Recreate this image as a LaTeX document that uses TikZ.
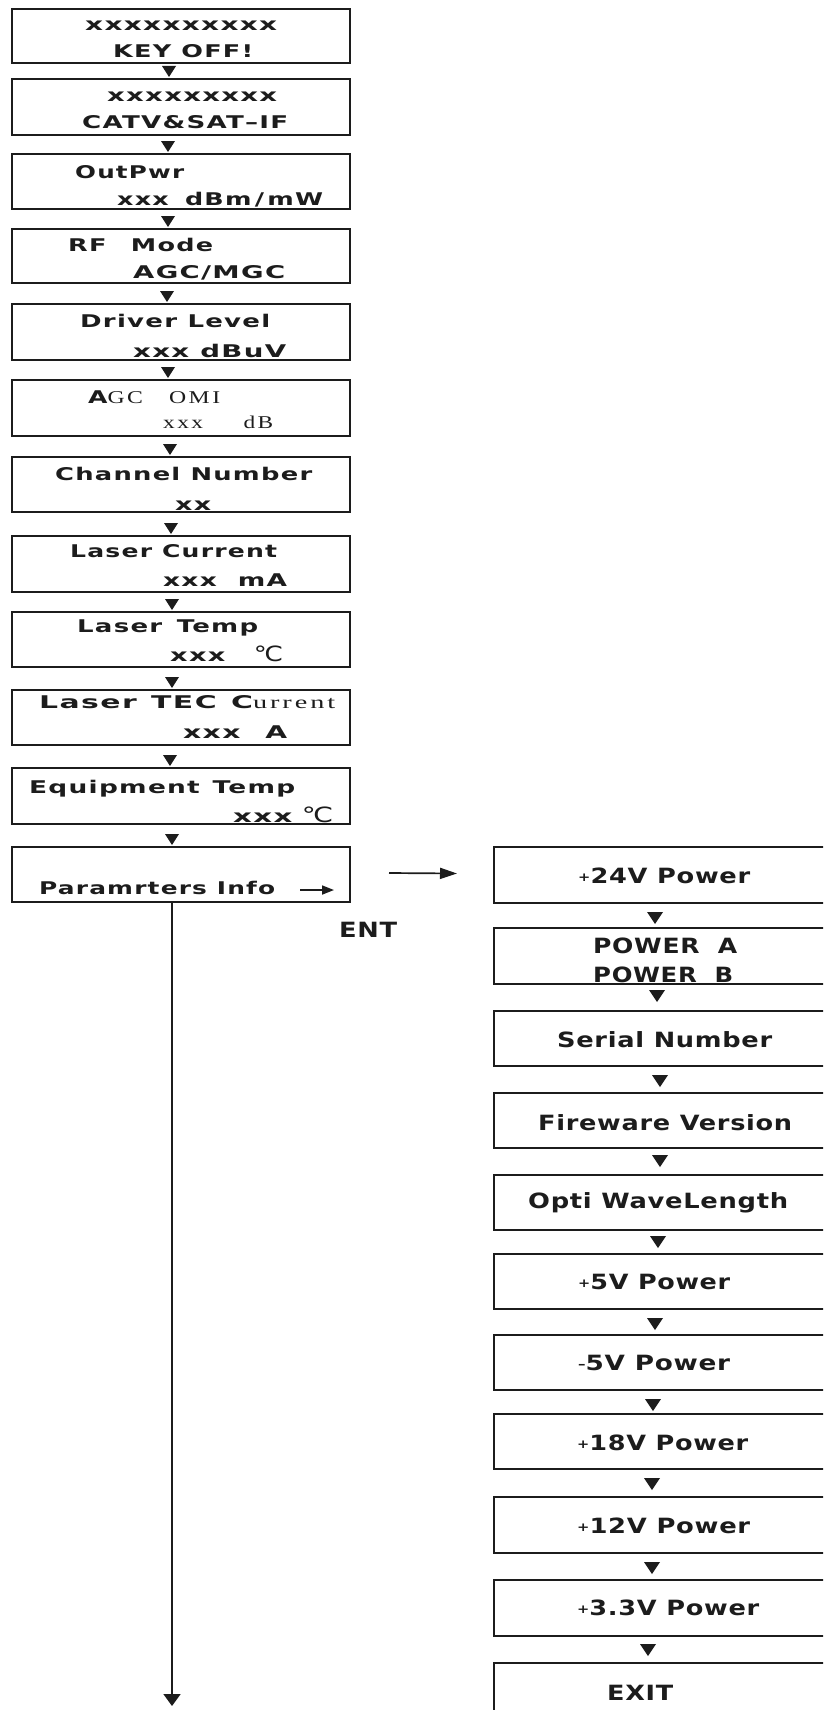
\documentclass[tikz,border=0pt]{standalone}
\usepackage{fontspec}
\usepackage{graphicx}
\setmainfont{DejaVu Sans}
\newfontfamily\Lf{DejaVu Sans}[FakeStretch=1.25,LetterSpace=6]
\newfontfamily\Rf{DejaVu Sans}[FakeStretch=1.1,LetterSpace=3]
\newfontfamily\Sf{Liberation Serif}[FakeStretch=1.15,LetterSpace=12]
\newfontfamily\Cf{DejaVu Sans}
\usetikzlibrary{arrows.meta,calc}
\definecolor{ink}{RGB}{28,28,28}
\newcommand\tw[6]{\node[#1] (#2) at (#3,#4) {\resizebox{#5pt}{\height}{#6}};}
\newcommand\plusg{{\fontsize{12}{12}\selectfont\raisebox{2pt}{+}}}
\newcommand\minusg{{\fontsize{12}{12}\selectfont\raisebox{2pt}{–}}}
\newcommand\serf[1]{{\Sf\mdseries\fontsize{18}{19}\selectfont #1}}
\newcommand\celsius{{\Cf\mdseries\fontsize{21}{22}\selectfont ℃}}
\newcommand\tri[4]{\fill[ink] (#1,#2) -- ++(-#3,-#4) -- ++(2*#3,0) -- cycle;}
\begin{document}
\begin{tikzpicture}[x=1pt,y=-1pt,
 box/.style={draw=ink, line width=1.8pt, inner sep=0pt, outer sep=0pt},
 lt/.style={anchor=base west, inner sep=0pt, text=ink, font=\Lf\bfseries\fontsize{17.5}{18}\selectfont},
 rt/.style={anchor=base west, inner sep=0pt, text=ink, font=\Rf\bfseries\fontsize{21}{22}\selectfont},
 st/.style={anchor=base west, inner sep=0pt, text=ink, font=\Sf\fontsize{18}{19}\selectfont},
 conn/.style={draw=ink, line width=1.7pt},
]
\useasboundingbox (0,0) rectangle (823,1710);
\fill[white] (0,0) rectangle (823,1710);
\clip (0,0) rectangle (823,1710);

% left column boxes
\node[box, minimum width=338pt, minimum height=54pt] (L1) at (181,36) {};
\node[box, minimum width=338pt, minimum height=56pt] (L2) at (181,107) {};
\node[box, minimum width=338pt, minimum height=55pt] (L3) at (181,181.5) {};
\node[box, minimum width=338pt, minimum height=54pt] (L4) at (181,256) {};
\node[box, minimum width=338pt, minimum height=56pt] (L5) at (181,332) {};
\node[box, minimum width=338pt, minimum height=56pt] (L6) at (181,408) {};
\node[box, minimum width=338pt, minimum height=55pt] (L7) at (181,484.5) {};
\node[box, minimum width=338pt, minimum height=56pt] (L8) at (181,564) {};
\node[box, minimum width=338pt, minimum height=55pt] (L9) at (181,639.5) {};
\node[box, minimum width=338pt, minimum height=55pt] (L10) at (181,717.5) {};
\node[box, minimum width=338pt, minimum height=56pt] (L11) at (181,796) {};
\node[box, minimum width=338pt, minimum height=55pt] (L12) at (181,874.5) {};

% right column boxes
\node[box, minimum width=406pt, minimum height=56pt] (R1) at (697,875) {};
\node[box, minimum width=406pt, minimum height=56pt] (R2) at (697,956) {};
\node[box, minimum width=406pt, minimum height=55pt] (R3) at (697,1038.5) {};
\node[box, minimum width=406pt, minimum height=55pt] (R4) at (697,1120.5) {};
\node[box, minimum width=406pt, minimum height=55pt] (R5) at (697,1202.5) {};
\node[box, minimum width=406pt, minimum height=55pt] (R6) at (697,1281.5) {};
\node[box, minimum width=406pt, minimum height=55pt] (R7) at (697,1362.5) {};
\node[box, minimum width=406pt, minimum height=55pt] (R8) at (697,1441.5) {};
\node[box, minimum width=406pt, minimum height=56pt] (R9) at (697,1525) {};
\node[box, minimum width=406pt, minimum height=56pt] (R10) at (697,1608) {};
\node[box, minimum width=406pt, minimum height=80pt] (R11) at (697,1703) {};

% left triangles
\tri{169}{77}{7}{11}
\tri{168}{152}{7}{11}
\tri{168}{227}{7}{11}
\tri{167}{302}{7}{11}
\tri{168}{378}{7}{11}
\tri{170}{455}{7}{11}
\tri{171}{534}{7}{11}
\tri{172}{610}{7}{11}
\tri{172}{688}{7}{11}
\tri{170}{766}{7}{11}
\tri{172}{845}{7}{11}
% right triangles
\tri{655}{924}{8}{12}
\tri{657}{1002}{8}{12}
\tri{660}{1087}{8}{12}
\tri{660}{1167}{8}{12}
\tri{658}{1248}{8}{12}
\tri{655}{1330}{8}{12}
\tri{653}{1411}{8}{12}
\tri{652}{1490}{8}{12}
\tri{652}{1574}{8}{12}
\tri{648}{1656}{8}{12}

% connectors
\coordinate (vend) at (172,1706);
\draw[conn, -{Triangle[length=12pt,width=17pt]}] ([xshift=-9pt]L12.south) -- (vend);
\draw[conn, -{Triangle[length=17pt,width=11pt]}] ([xshift=39pt,yshift=1.5pt]L12.east) -- ([xshift=-37pt,yshift=1.5pt]R1.west);
\coordinate (pa) at (300,890);
\coordinate (pb) at (334,890);
\draw[conn, -{Triangle[length=12pt,width=9pt]}] (pa) -- (pb);

% left texts
\tw{lt}{a1}{85}{31}{192}{xxxxxxxxxx}
\tw{lt}{a2}{113}{57}{140}{KEY OFF!}
\tw{lt}{b1}{107}{101}{170}{xxxxxxxxx}
\tw{lt}{b2}{82}{128}{206}{CATV\&SAT–IF}
\tw{lt}{c1}{75}{178}{109}{OutPwr}
\tw{lt}{c2}{117}{205}{206}{xxx\hspace{0.8em}dBm\,/\,mW}
\tw{lt}{d1}{68}{251}{145}{RF\hspace{1.2em}Mode}
\tw{lt}{d2}{133}{278}{152}{AGC/MGC}
\tw{lt}{e1}{80}{327}{190}{Driver\hspace{0.5em}Level}
\tw{lt}{e2}{133}{357}{153}{xxx\hspace{0.5em}dBuV}
\tw{lt}{f1}{88}{403}{132}{A\serf{GC}\hspace{1.3em}\serf{OMI}}
\tw{st}{f2}{163}{428}{110}{xxx\hspace{2em}dB}
\tw{lt}{g1}{55}{480}{257}{Channel Number}
\tw{lt}{g2}{175}{510}{36}{xx}
\tw{lt}{h1}{70}{557}{207}{Laser Current}
\tw{lt}{h2}{163}{586}{124}{xxx\hspace{1em}mA}
\tw{lt}{i1}{77}{632}{181}{Laser\hspace{0.7em}Temp}
\tw{lt}{i2}{170}{661}{113}{xxx\hspace{1.3em}\celsius}
\tw{lt}{j1}{39}{708}{296}{Laser\hspace{0.6em}TEC\hspace{0.6em}C\serf{urrent}}
\tw{lt}{j2}{183}{738}{104}{xxx\hspace{1.1em}A}
\tw{lt}{k1}{29}{793}{266}{Equipment\hspace{0.6em}Temp}
\tw{lt}{k2}{233}{822}{100}{xxx\hspace{0.4em}\celsius}
\tw{lt}{m1}{39}{894}{236}{Paramrters Info}

% right texts
\tw{rt}{ent}{339}{937}{58}{ENT}
\tw{rt}{n1}{578}{883}{172}{\plusg 24V Power}
\tw{rt}{o1}{593}{953}{144}{POWER\hspace{0.8em}A}
\tw{rt}{o2}{593}{982}{140}{POWER\hspace{0.8em}B}
\tw{rt}{p1}{557}{1047}{215}{Serial Number}
\tw{rt}{q1}{538}{1130}{254}{Fireware Version}
\tw{rt}{r1}{528}{1208}{260}{Opti WaveLength}
\tw{rt}{s1}{578}{1289}{152}{\plusg 5V Power}
\tw{rt}{t1}{578}{1370}{152}{\minusg 5V Power}
\tw{rt}{u1}{577}{1450}{171}{\plusg 18V Power}
\tw{rt}{v1}{577}{1533}{173}{\plusg 12V Power}
\tw{rt}{w1}{577}{1615}{182}{\plusg 3.3V Power}
\tw{rt}{x1}{607}{1700}{66}{EXIT}
\end{tikzpicture}
\end{document}
